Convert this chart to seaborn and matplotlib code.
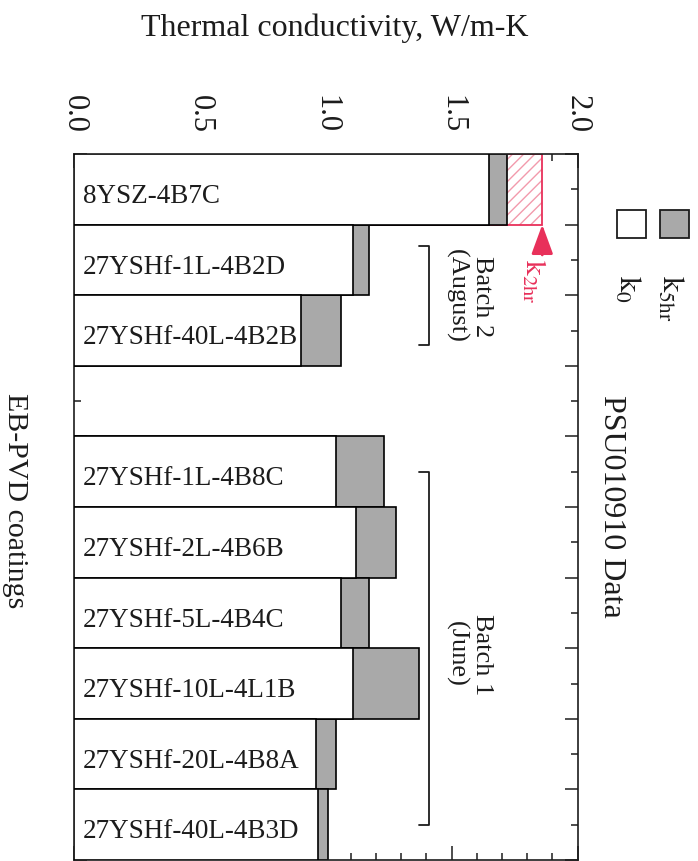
import numpy as np
import pandas as pd
import matplotlib
matplotlib.use("Agg")
import matplotlib.pyplot as plt
import matplotlib.transforms as mtransforms
from matplotlib.patches import Rectangle
from matplotlib.ticker import FixedLocator, MultipleLocator
from matplotlib.lines import Line2D
import seaborn as sns

# ---- data -------------------------------------------------------------
coatings = ["8YSZ-4B7C", "27YSHf-1L-4B2D", "27YSHf-40L-4B2B",
            "27YSHf-1L-4B8C", "27YSHf-2L-4B6B", "27YSHf-5L-4B4C",
            "27YSHf-10L-4L1B", "27YSHf-20L-4B8A", "27YSHf-40L-4B3D"]
k_0 = [1.65, 1.11, 0.90, 1.04, 1.12, 1.06, 1.11, 0.96, 0.97]
k_5hr = [1.72, 1.17, 1.06, 1.23, 1.28, 1.17, 1.37, 1.04, 1.01]
k_2hr_coating = "8YSZ-4B7C"
k_2hr = 1.86
x_ticks = [0.0, 0.5, 1.0, 1.5, 2.0]
x_tick_labels = ["0.0", "0.5", "1.0", "1.5", "2.0"]
batch_groups = [("Batch 2\n(August)", "27YSHf-1L-4B2D", "27YSHf-40L-4B2B"),
                ("Batch 1\n(June)", "27YSHf-1L-4B8C", "27YSHf-40L-4B3D")]

# ---- style ------------------------------------------------------------
sns.set_style("ticks")
plt.rcParams["font.family"] = ["Liberation Serif", "DejaVu Serif"]
plt.rcParams["mathtext.fontset"] = "stix"
plt.rcParams["hatch.linewidth"] = 1.0

INK = "#1c1c1c"
GRAY = "#a9a9a9"
RED = "#e8305a"
PINK = "#f29aac"

W, H = 698, 862
fig = plt.figure(figsize=(W / 100, H / 100), dpi=100)
ax = fig.add_axes([74 / W, 1 - 861 / H, (577.5 - 74) / W, (861 - 155) / H])

# an empty slot separates the two batches
spacer = " "
order = coatings[:3] + [spacer] + coatings[3:]
df = pd.DataFrame({"coating": coatings, "k0": k_0, "k5hr": k_5hr})
df2 = pd.DataFrame({"coating": [k_2hr_coating], "k2hr": [k_2hr]})

common = dict(order=order, orient="h", width=1.0, errorbar=None,
              saturation=1, ax=ax)

# k_2hr: hatched fill plus red outline
sns.barplot(data=df2, x="k2hr", y="coating", color="white", edgecolor=PINK,
            hatch="///", linewidth=0, zorder=1, **common)
sns.barplot(data=df2, x="k2hr", y="coating", fill=False, color=RED,
            linewidth=1.3, zorder=1.5, **common)
# k_5hr (grey) under k_0 (white)
sns.barplot(data=df, x="k5hr", y="coating", color=GRAY, edgecolor="black",
            linewidth=1.2, zorder=2, **common)
sns.barplot(data=df, x="k0", y="coating", color="white", edgecolor="black",
            linewidth=1.2, zorder=3, **common)

n = len(order)
ax.set_xlim(0, 2)
ax.set_ylim(n - 0.5, -0.5)
ax.set_xlabel("")
ax.set_ylabel("")

# axes frame and ticks
for s in ax.spines.values():
    s.set_linewidth(1.2)
    s.set_color(INK)
ax.xaxis.set_major_locator(FixedLocator(x_ticks))
ax.xaxis.set_minor_locator(MultipleLocator(0.1))
ax.set_xticklabels(x_tick_labels, rotation=-90, fontsize=22, color=INK)
ax.tick_params(axis="x", which="both", direction="in", top=True, bottom=True,
               labeltop=True, labelbottom=False, color=INK, width=1.1)
ax.tick_params(axis="x", which="major", length=10, pad=16)
ax.tick_params(axis="x", which="minor", length=5)

ax.yaxis.set_major_locator(FixedLocator(np.arange(-0.5, n, 1.0)))
ax.yaxis.set_minor_locator(FixedLocator(np.arange(0, n, 1.0)))
ax.tick_params(axis="y", which="both", direction="in", left=True, right=True,
               labelleft=False, labelright=False, color=INK, width=1.1)
ax.tick_params(axis="y", which="major", length=9.5)
ax.tick_params(axis="y", which="minor", length=5)

# coating names written inside the bars
trans = mtransforms.blended_transform_factory(ax.transAxes, ax.transData)
for i, name in enumerate(order):
    if name == spacer:
        continue
    ax.text(0.018, i + 0.18, name, transform=trans, ha="left",
            va="baseline", fontsize=19.5, color=INK, zorder=5)

# k_2hr marker
i2 = order.index(k_2hr_coating)
ax.annotate("", xy=(k_2hr, i2 + 0.5), xytext=(k_2hr, i2 + 0.93),
            arrowprops=dict(arrowstyle="-|>,head_length=0.9,head_width=0.33",
                            color=RED, lw=2, shrinkA=0, shrinkB=0,
                            mutation_scale=20),
            zorder=6, annotation_clip=False)
ax.text(1.826, i2 + 0.97, r"$\mathrm{k}_{\mathrm{2hr}}$", rotation=-90,
        ha="center", va="top", fontsize=21, color=RED, zorder=6)

# batch brackets
for label, first, last in batch_groups:
    y0 = order.index(first)
    y1 = order.index(last)
    if y1 - y0 < 2:
        y0 -= 0.2
        y1 += 0.2
    xb, xt = 1.41, 1.37
    ax.add_line(Line2D([xt, xb, xb, xt], [y0, y0, y1, y1], color=INK,
                       lw=1.3, zorder=4))
    ax.text(1.569, (y0 + y1) / 2 + (0.07 if y1 - y0 > 2 else 0.0), label,
            rotation=-90, ha="center", va="center", multialignment="center",
            fontsize=19, color=INK, linespacing=1.15)


# ---- figure-level texts and key ---------------------------------------
def fx(px):
    return px / W


def fy(py):
    return 1 - py / H


fig.text(fx(334.5), fy(36), "Thermal conductivity, W/m-K", ha="center",
         va="baseline", fontsize=23, color=INK)
fig.text(fx(612), fy(506), "PSU010910 Data", rotation=-90, ha="center",
         va="center", fontsize=23, color=INK)
fig.text(fx(15), fy(501), "EB-PVD coatings", rotation=-90, ha="center",
         va="center", fontsize=21.5, color=INK)

for x0, face, lab, cx in [(660, GRAY, r"$\mathrm{k}_{\mathrm{5hr}}$", 670),
                          (617, "white", r"$\mathrm{k}_{0}$", 627)]:
    fig.add_artist(Rectangle((fx(x0), fy(239)), 29 / W, 28 / H,
                             transform=fig.transFigure, facecolor=face,
                             edgecolor=INK, lw=1.3))
    fig.text(fx(cx), fy(275), lab, rotation=-90, ha="center", va="top",
             fontsize=22, color=INK)

fig.savefig("out.png", dpi=100)
